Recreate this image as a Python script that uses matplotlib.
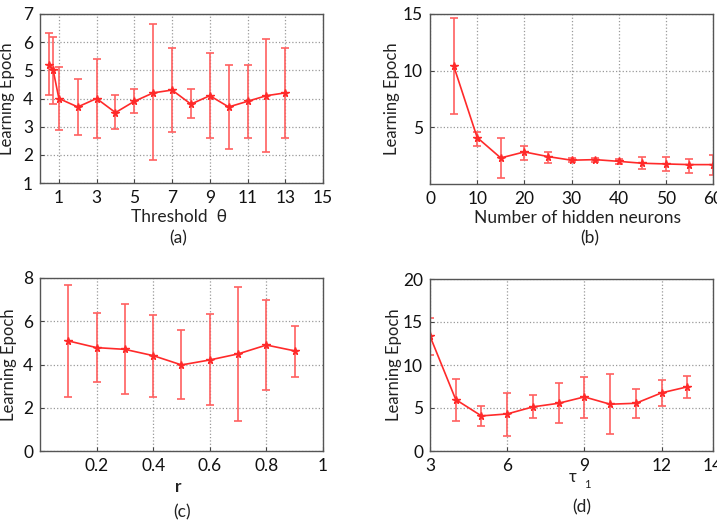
import matplotlib
matplotlib.use("Agg")
import matplotlib.pyplot as plt
import numpy as np

plt.rcParams["font.family"] = ["Lato", "DejaVu Sans"]

# (a) threshold theta
theta = [0.5, 0.7, 1, 2, 3, 4, 5, 6, 7, 8, 9, 10, 11, 12, 13]
theta_mean = [5.2, 5.0, 4.0, 3.7, 4.0, 3.5, 3.9, 4.2, 4.3, 3.8, 4.1, 3.7, 3.9, 4.1, 4.2]
theta_hi = [6.32, 6.2, 5.12, 4.7, 5.4, 4.12, 4.33, 6.63, 5.8, 4.33, 5.6, 5.2, 5.2, 6.1, 5.8]
theta_lo = [4.12, 3.8, 2.89, 2.7, 2.6, 2.9, 3.5, 1.8, 2.8, 3.3, 2.6, 2.2, 2.6, 2.1, 2.6]

# (b) hidden neurons
neurons = [5, 10, 15, 20, 25, 30, 35, 40, 45, 50, 55, 60]
neurons_mean = [10.45, 4.1, 2.3, 2.83, 2.42, 2.1, 2.15, 2.0, 1.83, 1.77, 1.71, 1.71]
neurons_hi = [14.64, 4.55, 4.05, 3.37, 2.83, 2.28, 2.33, 2.24, 2.4, 2.4, 2.24, 2.57]
neurons_lo = [6.2, 3.37, 0.56, 2.15, 1.83, 1.92, 1.95, 1.74, 1.33, 1.15, 1.0, 0.8]

# (c) r
r_vals = [0.1, 0.2, 0.3, 0.4, 0.5, 0.6, 0.7, 0.8, 0.9]
r_mean = [5.09, 4.78, 4.7, 4.41, 3.98, 4.21, 4.49, 4.9, 4.63]
r_hi = [7.66, 6.39, 6.8, 6.3, 5.59, 6.33, 7.58, 6.97, 5.8]
r_lo = [2.5, 3.2, 2.62, 2.5, 2.41, 2.12, 1.41, 2.8, 3.4]

# (d) tau_1
tau = [3, 4, 5, 6, 7, 8, 9, 10, 11, 12, 13]
tau_mean = [13.36, 5.98, 4.08, 4.31, 5.13, 5.55, 6.29, 5.44, 5.55, 6.76, 7.46]
tau_hi = [15.5, 8.43, 5.24, 6.76, 6.49, 7.88, 8.62, 8.97, 7.26, 8.31, 8.74]
tau_lo = [11.15, 3.53, 2.91, 1.75, 3.8, 3.3, 3.8, 1.98, 3.8, 5.24, 6.21]

W, H = 717, 525
fig = plt.figure(figsize=(W / 100, H / 100), dpi=100)


def px_axes(l, t, r, b):
    return fig.add_axes([l / W, 1 - b / H, (r - l) / W, (b - t) / H])


def panel(ax, x, m, hi, lo, xlim, ylim, xticks, yticks, ylab_x):
    m = np.array(m)
    err = [m - np.array(lo), np.array(hi) - m]
    ax.errorbar(x, m, yerr=err, color="#ff2a2a", ecolor="#ff6060", elinewidth=1.2,
                capsize=3, capthick=1.2, marker="*", markersize=5.5, linewidth=1.2)
    ax.set_xlim(*xlim)
    ax.set_ylim(*ylim)
    ax.set_xticks(xticks)
    ax.set_yticks(yticks)
    ax.grid(True, linestyle=":", color="#999999", linewidth=0.9)
    ax.tick_params(direction="in", length=3, labelsize=12.5, colors="#444444",
                   labelcolor="#111111", pad=5)
    for s in ax.spines.values():
        s.set_color("#555555")
        s.set_linewidth(1.0)
    ax.set_ylabel("Learning Epoch", fontsize=12, color="#222222")
    ax.yaxis.set_label_coords(ylab_x, 0.5)


ax_a = px_axes(40, 14, 323, 183)
panel(ax_a, theta, theta_mean, theta_hi, theta_lo, (0, 15), (1, 7),
      [1, 3, 5, 7, 9, 11, 13, 15], [1, 2, 3, 4, 5, 6, 7], -0.088)

ax_b = px_axes(430, 14, 713, 184)
panel(ax_b, neurons, neurons_mean, neurons_hi, neurons_lo, (0, 60), (0, 15),
      [0, 10, 20, 30, 40, 50, 60], [5, 10, 15], -0.106)

ax_c = px_axes(40, 278, 323, 451)
panel(ax_c, r_vals, r_mean, r_hi, r_lo, (0, 1), (0, 8),
      [0.2, 0.4, 0.6, 0.8, 1], [0, 2, 4, 6, 8], -0.081)
ax_c.set_xticklabels(["0.2", "0.4", "0.6", "0.8", "1"])

ax_d = px_axes(430, 279, 713, 451)
panel(ax_d, tau, tau_mean, tau_hi, tau_lo, (3, 14), (0, 20),
      [3, 6, 9, 12, 14], [0, 5, 10, 15, 20], -0.099)


def ftext(x, y, s, **kw):
    fig.text(x / W, 1 - y / H, s, ha="center", va="center", color="#222222", **kw)


ftext(179, 217, "Threshold  \u03b8", fontsize=12.5)
ftext(178, 238, "(a)", fontsize=12.5)
ftext(578, 218, "Number of hidden neurons", fontsize=12.5)
ftext(590, 238, "(b)", fontsize=12.5)
ftext(178, 487, "r", fontsize=12.5, fontweight="bold")
ftext(182, 512, "(c)", fontsize=12.5)
ftext(573, 477, "\u03c4", fontsize=12)
ftext(587, 484, "1", fontsize=8)
ftext(582, 507, "(d)", fontsize=12.5)

fig.savefig("out.png", dpi=100)
